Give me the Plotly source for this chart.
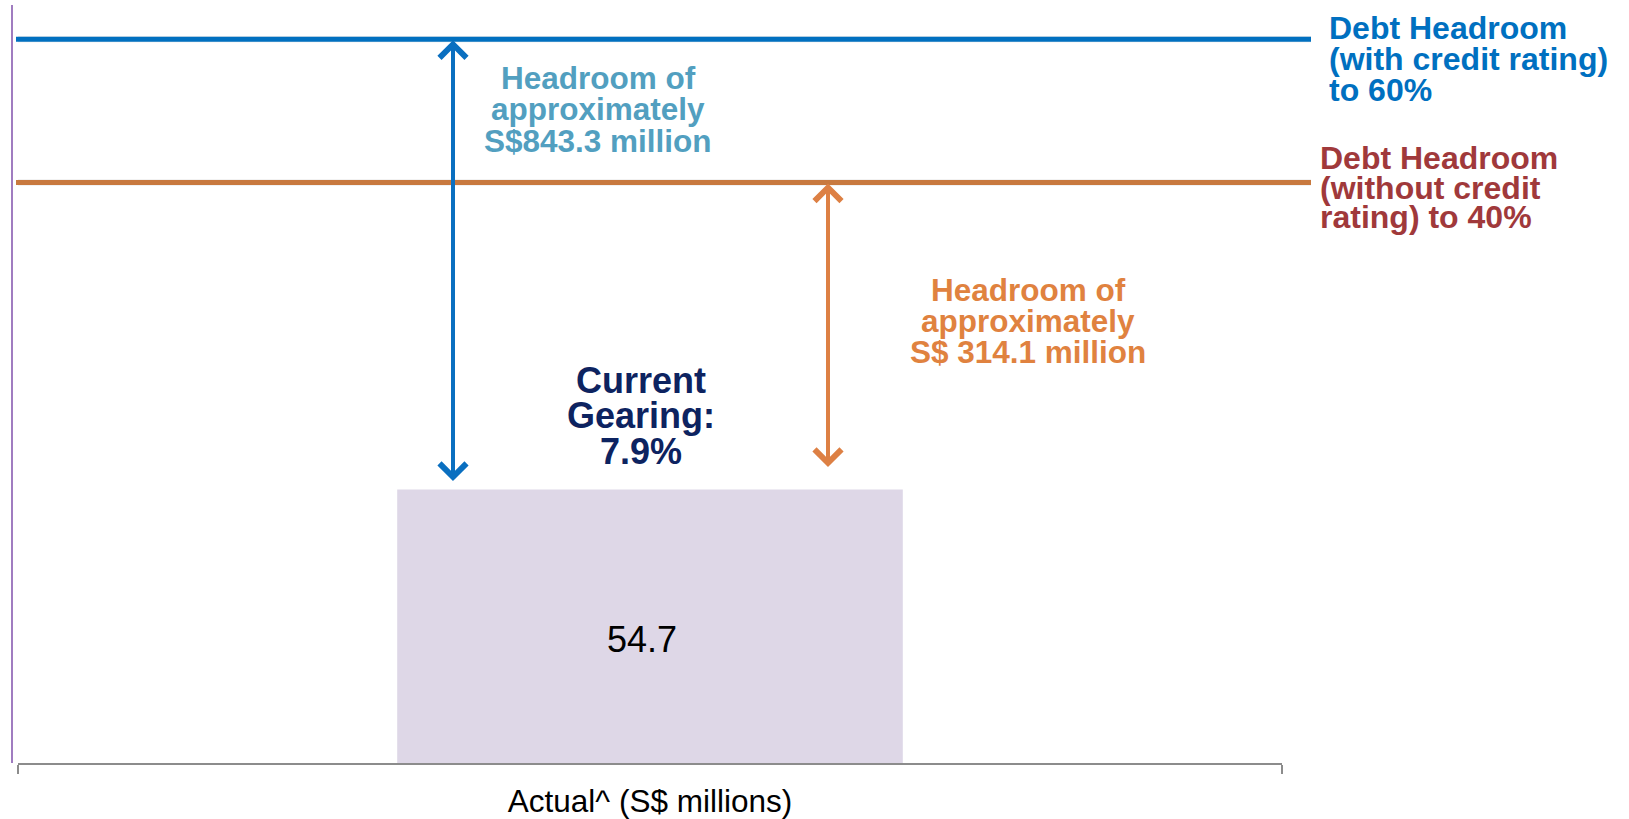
import math
import plotly.graph_objects as go

# Borrowings and debt headroom (S$ millions)
categories = ["Actual^ (S$ millions)"]
borrowings = [54.7]
gearing_pct = [7.9]
headroom_values = [314.1, 843.3]          # to 40% limit, to 60% limit
limit_labels = [
    ["Debt Headroom", "(without credit", "rating) to 40%"],
    ["Debt Headroom", "(with credit rating)", "to 60%"],
]

W, H = 1629, 819
ML, MR, MT, MB = 18, 347, 0, 54
PW, PH = W - ML - MR, H - MT - MB

FONT = "Liberation Sans, Arial, sans-serif"
BLUE = "#0070C0"
LINE_ORANGE = "#C8793F"
TEXT_ORANGE = "#E0823F"
TEAL = "#529FC0"
RED = "#A0393B"
NAVY = "#0D2360"
BAR = "#DED7E7"


def xp(px):
    """Horizontal pixel -> paper fraction."""
    return (px - ML) / PW


def yp(py):
    """Vertical pixel -> paper fraction."""
    return (H - MB - py) / PH


def xc(px):
    """Horizontal pixel -> position on the single-category axis."""
    return -0.5 + (px - ML) / PW


limit_levels = [borrowings[0] + h for h in headroom_values]

fig = go.Figure()
fig.add_trace(go.Bar(
    x=categories, y=borrowings, width=0.4,
    marker=dict(color=BAR, line=dict(width=0)),
    hoverinfo="skip", showlegend=False,
))

shapes = []
# left border line
shapes.append(dict(type="line", xref="paper", yref="paper",
                   x0=xp(12), x1=xp(12), y0=yp(5), y1=yp(765),
                   line=dict(color="#A07CC0", width=2)))
# limit lines with a soft drop shadow
for lvl, col in zip(limit_levels, [LINE_ORANGE, BLUE]):
    shapes.append(dict(type="line", xref="paper", yref="y", ysizemode="pixel",
                       yanchor=lvl, y0=-5, y1=-5, x0=xp(18), x1=xp(1311),
                       line=dict(color="rgba(0,0,0,0.10)", width=6), layer="below"))
    shapes.append(dict(type="line", xref="paper", yref="y",
                       x0=xp(16), x1=xp(1311), y0=lvl, y1=lvl,
                       line=dict(color=col, width=5)))

ann = []
# double-headed headroom arrows, from the top of the bar to each limit line
arrow_specs = [
    (xc(828), limit_levels[0], "#DD8044", 1, 21),
    (xc(453), limit_levels[1], "#0A6FC0", 1, 7),
]
for x, lvl, col, so, sso in arrow_specs:
    ann.append(dict(
        x=x, y=math.log10(lvl), xref="x", yref="y",
        ax=x, ay=math.log10(borrowings[0]), axref="x", ayref="y",
        text="", showarrow=True, arrowside="end+start",
        arrowhead=4, startarrowhead=4, arrowsize=1.3, startarrowsize=1.3,
        arrowwidth=4, arrowcolor=col, standoff=so, startstandoff=sso,
    ))


def text_block(lines, cx, ys, color, size, weight="bold", xanchor="center"):
    for t, y in zip(lines, ys):
        ann.append(dict(
            x=xp(cx), y=yp(y), xref="paper", yref="paper", text=t,
            showarrow=False, xanchor=xanchor, yanchor="middle",
            font=dict(family=FONT, size=size, color=color, weight=weight),
        ))


text_block(["Headroom of", "approximately", f"S${headroom_values[1]} million"],
           598, [78, 109, 141], TEAL, 31.5)
text_block(["Headroom of", "approximately", f"S$ {headroom_values[0]} million"],
           1028, [291, 322, 353], TEXT_ORANGE, 31.5)
text_block(["Current", "Gearing:", f"{gearing_pct[0]}%"],
           641, [381, 417, 453], NAVY, 36)
text_block(limit_labels[1], 1327, [28, 59, 90], BLUE, 32, xanchor="left")
text_block(limit_labels[0], 1318, [158, 188, 218], RED, 32, xanchor="left")

# bar value
ann.append(dict(
    x=xp(642), y=yp(641), xref="paper", yref="paper", text=f"{borrowings[0]}",
    showarrow=False, xanchor="center", yanchor="middle",
    font=dict(family=FONT, size=36, color="#000000"),
))

fig.update_layout(
    width=W, height=H,
    margin=dict(l=ML, r=MR, t=MT, b=MB, pad=0),
    paper_bgcolor="white", plot_bgcolor="white",
    shapes=shapes, annotations=ann, showlegend=False,
    xaxis=dict(
        type="category", range=[-0.5, 0.5], showgrid=False, zeroline=False,
        showline=True, linecolor="#8C8C8C", linewidth=2,
        ticks="outside", tickson="boundaries", ticklen=9, tickwidth=2,
        tickcolor="#8C8C8C", ticklabelstandoff=9,
        tickfont=dict(family=FONT, size=31.5, color="#000000"),
    ),
    yaxis=dict(
        type="log", range=[1, 1 + PH / 371.5], showgrid=False, zeroline=False,
        showline=False, showticklabels=False, ticks="",
    ),
)

fig.write_html("out.html")
